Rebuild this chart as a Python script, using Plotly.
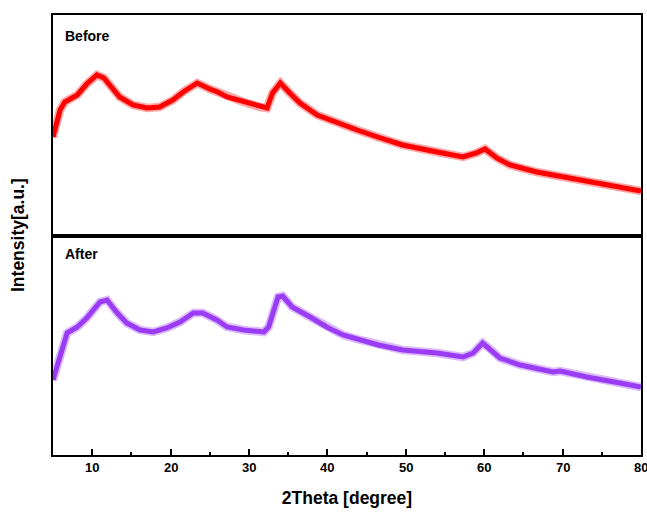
import plotly.graph_objects as go

# 2Theta positions (degree) and intensities (a.u.)
before_x = [5, 5.4, 5.9, 6.5, 7.3, 8.1, 9.3, 10.6, 11.5, 12.3, 13.5, 15.2, 17, 18.6,
            20.3, 21.6, 23.4, 25, 26, 27.2, 29.3, 31.4, 32.3, 33, 34, 35.2, 36.5,
            38.7, 41.2, 43.8, 46.4, 49.6, 54, 57.3, 59, 60.1, 61.6, 63.3, 66.7,
            70.9, 75.2, 80]
before_y = [99, 113, 126, 134, 138, 141, 152, 161, 158, 151, 139, 131, 128, 129,
            136, 144, 153, 147, 144, 139, 134, 129, 128, 143, 153, 143, 133,
            121, 113, 106, 99, 91, 84, 79, 83, 87, 78, 71, 64,
            58, 51, 45]

after_x = [5, 5.9, 6.8, 8.1, 9.3, 11, 11.9, 13.2, 14.4, 16.1, 17.8, 19.5, 21.2,
           22.9, 24.1, 25.9, 27.2, 29.3, 31.9, 32.5, 33.1, 33.7, 34.3, 35.5, 37.8,
           39.9, 42, 44.2, 46.5, 49.6, 54, 57.3, 58.6, 59.8, 60.9, 62, 64.6, 68.8,
           69.7, 73.1, 77.3, 80]
after_y = [75, 98, 122, 128, 137, 153, 155, 142, 132, 125, 123, 127, 133,
           142, 142, 135, 128, 125, 123, 128, 145, 158, 159, 148, 138,
           128, 120, 115, 110, 105, 102, 98, 102, 112, 105, 97, 90, 83,
           84, 78, 72, 68]

x_ticks = [10, 20, 30, 40, 50, 60, 70, 80]
panel_labels = ["Before", "After"]

RED = "#FF0000"
PURPLE = "#9B3CF5"
FONT = "Liberation Sans, Arial, sans-serif"

fig = go.Figure()
# soft halo to mimic the noisy band
fig.add_trace(go.Scatter(x=before_x, y=before_y, mode="lines", xaxis="x2", yaxis="y2",
                         line=dict(color="rgba(255,0,0,0.35)", width=8.5), hoverinfo="skip"))
fig.add_trace(go.Scatter(x=before_x, y=before_y, mode="lines", xaxis="x2", yaxis="y2",
                         line=dict(color=RED, width=5), name="Before"))
fig.add_trace(go.Scatter(x=after_x, y=after_y, mode="lines", xaxis="x", yaxis="y",
                         line=dict(color="rgba(155,60,245,0.35)", width=8.5), hoverinfo="skip"))
fig.add_trace(go.Scatter(x=after_x, y=after_y, mode="lines", xaxis="x", yaxis="y",
                         line=dict(color=PURPLE, width=5), name="After"))

split = (455 - 236) / 440.0
label_y = (455 - 467) / 440.0

annotations = [
    dict(text="<b>" + panel_labels[0] + "</b>", xref="paper", yref="paper",
         x=(63 - 53) / 588, y=1 - (36 - 15) / 440, xanchor="left", yanchor="middle",
         showarrow=False, font=dict(family=FONT, size=14, color="black")),
    dict(text="<b>" + panel_labels[1] + "</b>", xref="paper", yref="paper",
         x=(63 - 53) / 588, y=1 - (254 - 15) / 440, xanchor="left", yanchor="middle",
         showarrow=False, font=dict(family=FONT, size=14, color="black")),
    dict(text="<b>Intensity[a.u.]</b>", xref="paper", yref="paper",
         x=(18 - 53) / 588, y=1 - (235 - 15) / 440, xanchor="center", yanchor="middle",
         textangle=-90, showarrow=False, font=dict(family=FONT, size=17.5, color="black")),
]
# tick labels drawn as annotations so the last one ("80") can sit at the edge as in the reference
for t in x_ticks:
    annotations.append(dict(text="<b>%d</b>" % t, xref="x", yref="paper", x=t, y=label_y,
                            xanchor="center", yanchor="middle", showarrow=False,
                            font=dict(family=FONT, size=13, color="black")))

fig.update_layout(
    width=647, height=513,
    margin=dict(l=53, r=6, t=15, b=58, autoexpand=False),
    paper_bgcolor="white", plot_bgcolor="white",
    showlegend=False,
    font=dict(family=FONT, color="black"),
    xaxis=dict(range=[5, 80], domain=[0, 1], anchor="y", automargin=False,
               showline=True, linecolor="black", linewidth=2, mirror=True,
               showgrid=False, zeroline=False,
               tickmode="array", tickvals=x_ticks, showticklabels=False,
               ticks="inside", ticklen=6, tickwidth=2, tickcolor="black",
               minor=dict(dtick=5, tick0=0, ticks="inside", ticklen=3, tickwidth=1.5,
                          tickcolor="black", showgrid=False),
               title=dict(text="<b>2Theta [degree]</b>", font=dict(family=FONT, size=17.5),
                          standoff=36)),
    xaxis2=dict(range=[5, 80], domain=[0, 1], anchor="y2", matches="x", automargin=False,
                showline=True, linecolor="black", linewidth=2, mirror=True,
                showgrid=False, zeroline=False, showticklabels=False, ticks=""),
    yaxis=dict(range=[0, 219], domain=[0, split], anchor="x", automargin=False,
               showline=True, linecolor="black", linewidth=2, mirror=True,
               showgrid=False, zeroline=False, showticklabels=False, ticks=""),
    yaxis2=dict(range=[0, 221], domain=[split, 1], anchor="x2", automargin=False,
                showline=True, linecolor="black", linewidth=2, mirror=True,
                showgrid=False, zeroline=False, showticklabels=False, ticks=""),
    annotations=annotations,
)

fig.write_html("out.html", config={"displayModeBar": False},
               post_script="document.body.style.margin='0';document.body.style.overflow='hidden';")
